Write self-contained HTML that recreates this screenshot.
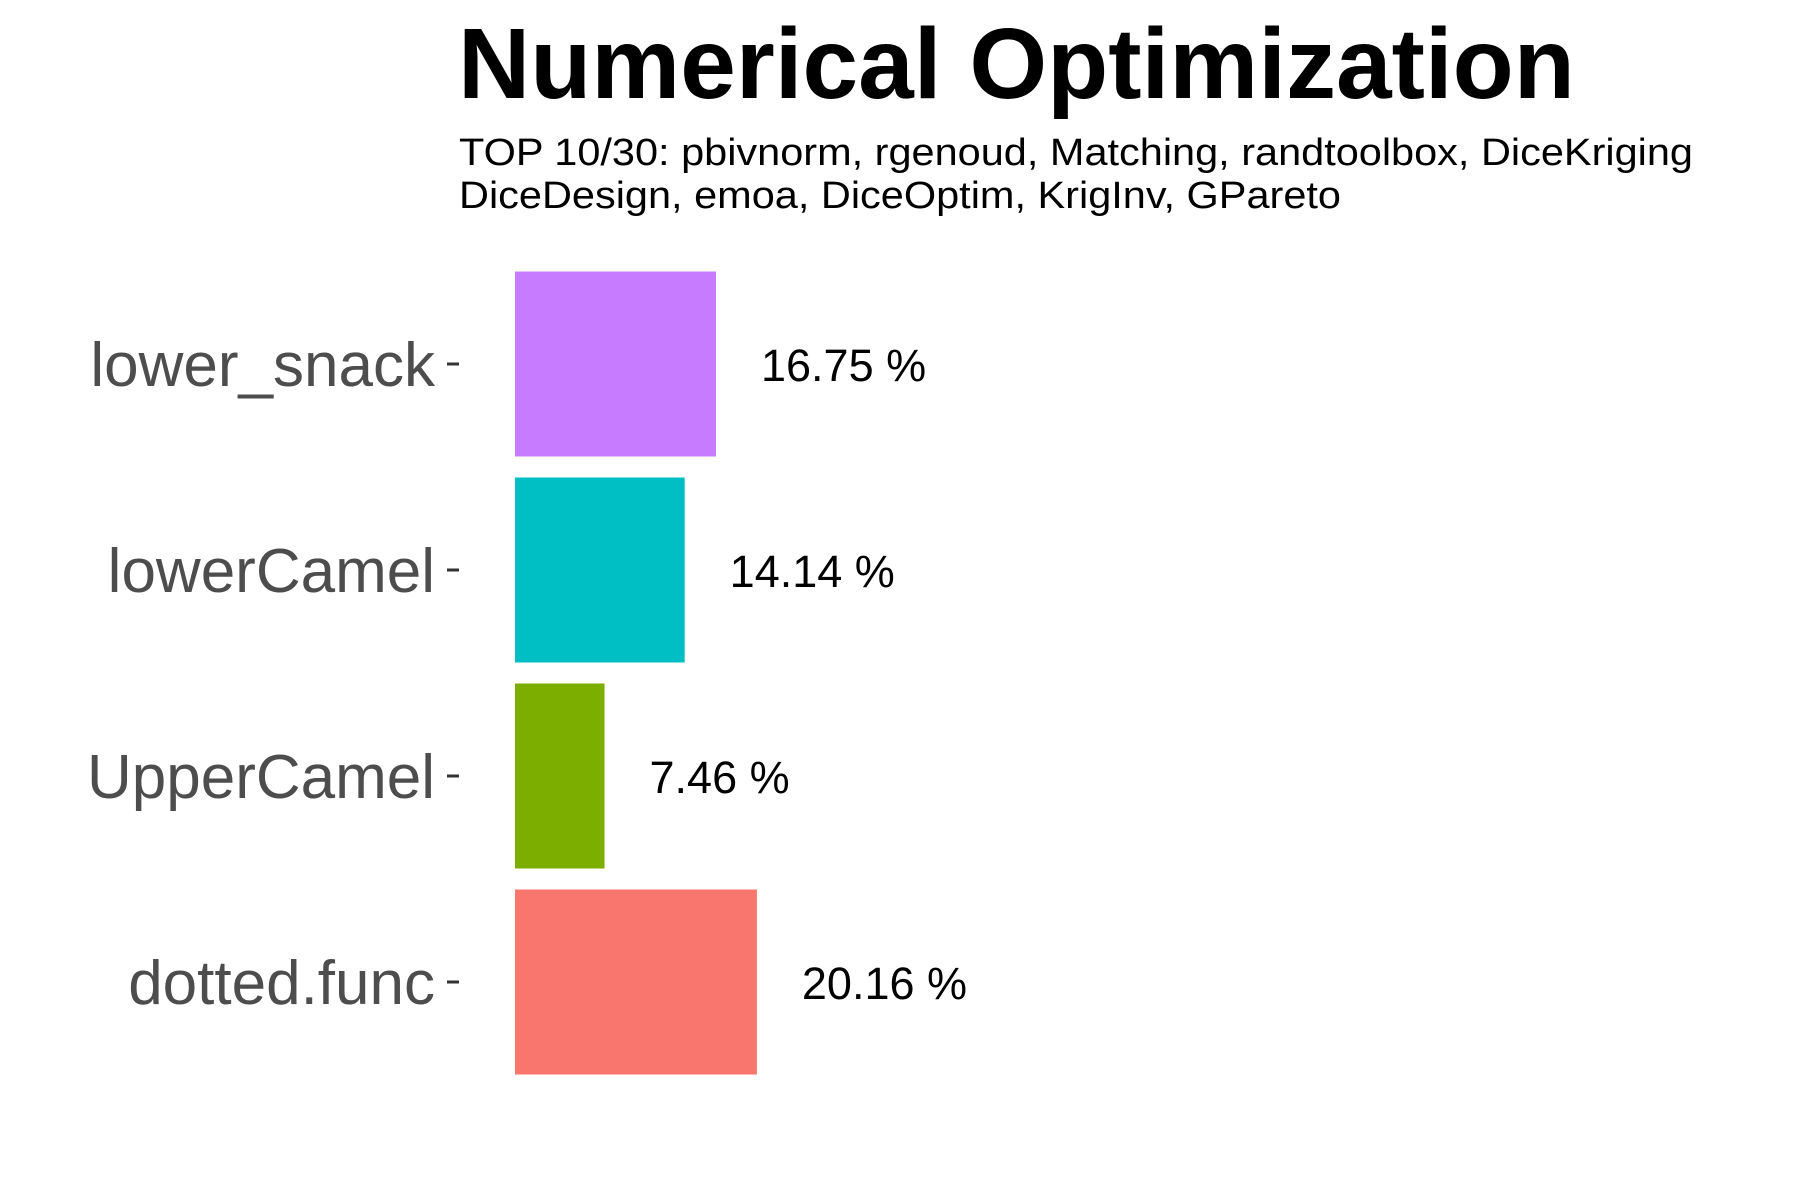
<!DOCTYPE html>
<html><head><meta charset="utf-8"><style>
html,body{margin:0;padding:0;background:#fff;}
svg{display:block;font-family:"Liberation Sans",Arial,sans-serif;}
</style></head><body>
<svg id="chart" width="1800" height="1200" viewBox="0 0 1800 1200">
<text x="458" y="98" font-size="100" font-weight="bold" fill="#000">Numerical Optimization</text>
<text x="459" y="165" font-size="38" fill="#000" textLength="1234" lengthAdjust="spacingAndGlyphs">TOP 10/30: pbivnorm, rgenoud, Matching, randtoolbox, DiceKriging</text>
<text x="459" y="208" font-size="38" fill="#000" textLength="882" lengthAdjust="spacingAndGlyphs">DiceDesign, emoa, DiceOptim, KrigInv, GPareto</text>
<g id="plot"></g>
</svg>
<script>
const categories = ["lower_snack", "lowerCamel", "UpperCamel", "dotted.func"];
const values = [16.75, 14.14, 7.46, 20.16];
const valueLabels = ["16.75 %", "14.14 %", "7.46 %", "20.16 %"];
const colors = ["#C77CFF", "#00BFC4", "#7CAE00", "#F8766D"];

const x0 = 515, pxPerUnit = 12.0;
const bandTop = 261, bandStep = 206, barH = 185;
function xScale(v){ return x0 + v * pxPerUnit; }
function yCenter(i){ return bandTop + bandStep * i + bandStep / 2; }

const g = document.getElementById('plot');
const NS = "http://www.w3.org/2000/svg";
categories.forEach((c, i) => {
  const cy = yCenter(i);
  const r = document.createElementNS(NS, 'rect');
  r.setAttribute('x', x0);
  r.setAttribute('y', cy - barH / 2);
  r.setAttribute('width', xScale(values[i]) - x0);
  r.setAttribute('height', barH);
  r.setAttribute('fill', colors[i]);
  
  
  g.appendChild(r);

  const vl = document.createElementNS(NS, 'text');
  vl.setAttribute('x', xScale(values[i]) + 45);
  vl.setAttribute('y', cy + 17);
  vl.setAttribute('font-size', '45');
  vl.setAttribute('fill', '#000');
  vl.textContent = valueLabels[i];
  
  
  g.appendChild(vl);

  const cl = document.createElementNS(NS, 'text');
  cl.setAttribute('x', 435);
  cl.setAttribute('y', cy + 22);
  cl.setAttribute('font-size', '62');
  cl.setAttribute('fill', '#4D4D4D');
  cl.setAttribute('text-anchor', 'end');
  cl.textContent = c;
  
  
  g.appendChild(cl);

  const t = document.createElementNS(NS, 'line');
  t.setAttribute('x1', 447);
  t.setAttribute('x2', 459);
  t.setAttribute('y1', cy);
  t.setAttribute('y2', cy);
  t.setAttribute('stroke', '#333');
  t.setAttribute('stroke-width', '3');
  
  
  g.appendChild(t);
});
</script>
</body></html>
